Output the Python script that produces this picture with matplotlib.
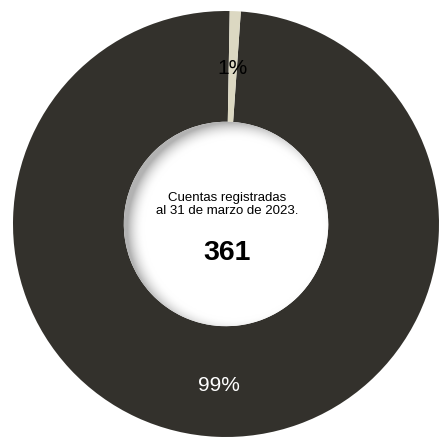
#!/usr/bin/env python3
"""
Donut chart of registered accounts at 31 March 2023.
"""

import matplotlib
matplotlib.use('Agg')
import matplotlib.pyplot as plt
import numpy as np
from matplotlib.patches import Circle

# Data
categories = ['Grupo A', 'Grupo B']
counts = [358, 3]
total_accounts = 361
center_title = 'Cuentas registradas\nal 31 de marzo de 2023.'

colors = ['#33312c', '#dcd8c2']
label_colors = ['white', 'black']

plt.rcParams['font.family'] = ['Liberation Sans', 'DejaVu Sans']

W, H = 440, 437
cx, cy = 226, 224          # pie centre in pixels (from top-left)
R = 213                     # outer radius in pixels

fig = plt.figure(figsize=(W / 100, H / 100), dpi=100)
ax = fig.add_axes([0, 0, 1, 1])

ring_width = 0.52
wedges, texts, autotexts = ax.pie(
    counts, colors=colors, startangle=89, counterclock=True, radius=1,
    autopct='%.0f%%', pctdistance=0.745,
    wedgeprops=dict(width=ring_width, linewidth=0),
    textprops=dict(fontsize=15))
for t, c in zip(autotexts, label_colors):
    t.set_color(c)
    x, y = t.get_position()
    t.set_position((x, y - 3 / R))   # small nudge down, as in the original

# soft inner shadow in the hole
r_in = 1 - ring_width
xs = np.linspace(-r_in, r_in, 300)
X, Y = np.meshgrid(xs, xs[::-1])
d = np.hypot(X - 0.035, Y + 0.025)
s = np.clip((d - (r_in - 0.06)) / 0.08, 0, 1)
g = 1 - 0.3 * s ** 2
img = np.dstack([g, g, g])
hole = Circle((0, 0), r_in, transform=ax.transData, facecolor='none', edgecolor='none')
ax.add_patch(hole)
im = ax.imshow(img, extent=(-r_in, r_in, -r_in, r_in), interpolation='bilinear', zorder=3)
im.set_clip_path(hole)

ax.set_xlim(-cx / R, (W - cx) / R)
ax.set_ylim(-(H - cy) / R, cy / R)
ax.set_aspect('auto')
ax.axis('off')

ax.text(0.005, 0.092, center_title, ha='center', va='center', fontsize=9.5,
        linespacing=1.2, zorder=4)
ax.text(0.005, -0.136, str(total_accounts), ha='center', va='center',
        fontsize=20.5, fontweight='bold', zorder=4)

fig.savefig('out.png', dpi=100)
